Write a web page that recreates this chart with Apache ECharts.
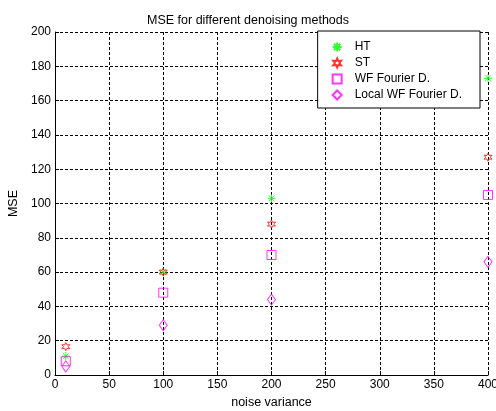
<!DOCTYPE html>
<html>
<head>
<meta charset="utf-8">
<script src="https://cdn.jsdelivr.net/npm/echarts@6/dist/echarts.min.js"></script>
<style>
  html, body { margin: 0; padding: 0; background: #fff; }
  #main { width: 496px; height: 411px; }
</style>
</head>
<body>
<div id="main"></div>
<script>
  // data
  var noiseVar = [10, 100, 200, 400];
  var mseHT = [11, 60, 103, 173];
  var mseST = [16.5, 60, 88, 127];
  var mseWF = [8, 48, 70, 105];
  var mseLocalWF = [5, 29, 44, 66];
  var names = ['HT', 'ST', 'WF Fourier D.', 'Local WF Fourier D.'];

  var star = 'path://M0,-5L0,5M-5,0L5,0M-3.6,-3.6L3.6,3.6M-3.6,3.6L3.6,-3.6';
  var hexagram = 'path://M0,-6L1.5,-2.6L5.2,-3L3,0L5.2,3L1.5,2.6L0,6L-1.5,2.6L-5.2,3L-3,0L-5.2,-3L-1.5,-2.6Z';

  function pairs(ys) {
    return noiseVar.map(function (x, i) { return [x, ys[i]]; });
  }

  function mk(name, ys, symbol, size, color) {
    return {
      name: name,
      type: 'scatter',
      data: pairs(ys),
      symbol: symbol,
      symbolSize: size,
      itemStyle: { color: 'rgba(0,0,0,0)', borderColor: color, borderWidth: 1 },
      emphasis: { disabled: true }
    };
  }

  var chart = echarts.init(document.getElementById('main'));
  var ff = 'Liberation Sans, Arial, sans-serif';
  chart.setOption({
    animation: false,
    title: {
      text: 'MSE for different denoising methods',
      left: 'center', top: 9,
      textStyle: { fontFamily: ff, fontSize: 12.5, fontWeight: 'normal', color: '#000' }
    },
    grid: { left: 55, right: 8, top: 32, bottom: 36, outerBoundsMode: 'none' },
    legend: {
      orient: 'vertical',
      right: 16, top: 31,
      padding: [10, 18, 7, 14],
      itemGap: 4,
      itemWidth: 9, itemHeight: 9,
      backgroundColor: '#fff',
      borderColor: '#000', borderWidth: 1, borderRadius: 0,
      textStyle: { fontFamily: ff, fontSize: 12, color: '#000', padding: [0, 0, 0, 8] },
      data: names
    },
    xAxis: {
      type: 'value', min: 0, max: 400, interval: 50,
      name: 'noise variance', nameLocation: 'middle', nameGap: 18,
      nameTextStyle: { fontFamily: ff, fontSize: 12.5, color: '#000' },
      axisLine: { lineStyle: { color: '#000' } },
      axisTick: { inside: true, length: 4, lineStyle: { color: '#000' } },
      axisLabel: { fontFamily: ff, fontSize: 12, color: '#000', margin: 4 },
      splitLine: { lineStyle: { color: '#000', type: [3, 2], width: 1 } }
    },
    yAxis: {
      type: 'value', min: 0, max: 200, interval: 20,
      name: 'MSE', nameLocation: 'middle', nameGap: 27,
      nameTextStyle: { fontFamily: ff, fontSize: 12.5, color: '#000' },
      axisLine: { show: true, lineStyle: { color: '#000' } },
      axisTick: { show: true, inside: true, length: 4, lineStyle: { color: '#000' } },
      axisLabel: { fontFamily: ff, fontSize: 12, color: '#000', margin: 4 },
      splitLine: { lineStyle: { color: '#000', type: [3, 2], width: 1 } }
    },
    series: [
      mk(names[0], mseHT, star, 8, '#00ff00'),
      mk(names[1], mseST, hexagram, 8, '#ff0000'),
      mk(names[2], mseWF, 'rect', 9, '#ff00ff'),
      mk(names[3], mseLocalWF, 'diamond', [8, 11], '#ff00ff')
    ]
  });
</script>
</body>
</html>
